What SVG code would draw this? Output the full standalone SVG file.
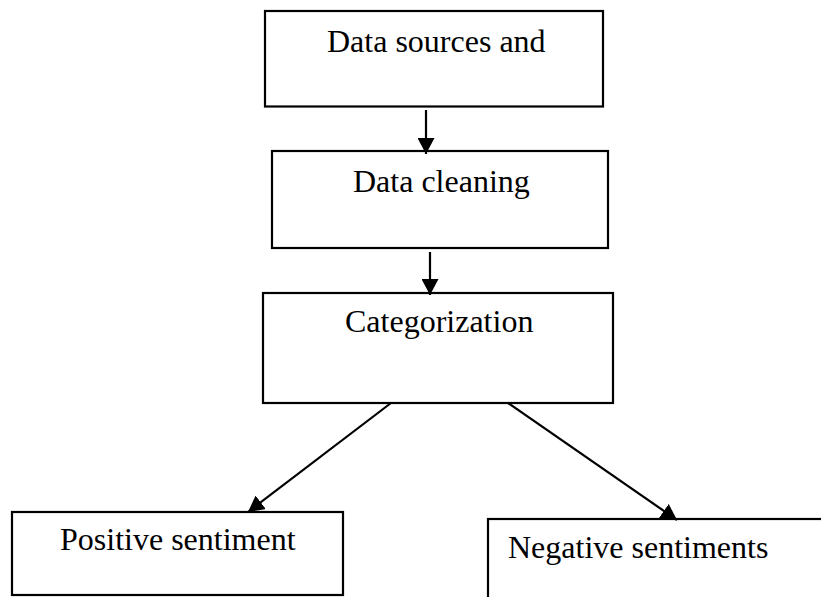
<svg xmlns="http://www.w3.org/2000/svg" width="821" height="597" viewBox="0 0 821 597">
<style>
.box{fill:#fff;stroke:#000;stroke-width:2.2}
.lbl{font-family:"Liberation Serif","Times New Roman",serif;font-size:32px;fill:#000}
.edge{stroke:#000;stroke-width:2.2;fill:none;marker-end:url(#ah)}
</style>
<defs>
<marker id="ah" markerUnits="userSpaceOnUse" markerWidth="17" markerHeight="17" refX="16" refY="8.5" orient="auto" viewBox="0 0 17 17">
<path d="M0,0 L16,8.5 L0,17 z" fill="#000"/>
</marker>
</defs>
<rect width="821" height="597" fill="#fff"/>
<g id="n1"><rect class="box" x="265" y="11" width="338" height="95.5"/><text class="lbl" x="327" y="52">Data sources and</text></g>
<g id="n2"><rect class="box" x="272" y="151" width="336" height="97"/><text class="lbl" x="353" y="192">Data cleaning</text></g>
<g id="n3"><rect class="box" x="263" y="293" width="350" height="110"/><text class="lbl" x="345" y="332">Categorization</text></g>
<g id="n4"><rect class="box" x="12" y="512" width="331" height="83"/><text class="lbl" x="60" y="550">Positive sentiment</text></g>
<g id="n5"><rect class="box" x="488" y="519" width="345" height="90"/><text class="lbl" x="508" y="558">Negative sentiments</text></g>
<g id="edges">
<line class="edge" x1="426" y1="110" x2="426" y2="154"/>
<line class="edge" x1="430" y1="252" x2="430" y2="295"/>
<line class="edge" x1="391" y1="403" x2="248" y2="512"/>
<line class="edge" x1="508" y1="403" x2="677" y2="520"/>
</g>
</svg>
